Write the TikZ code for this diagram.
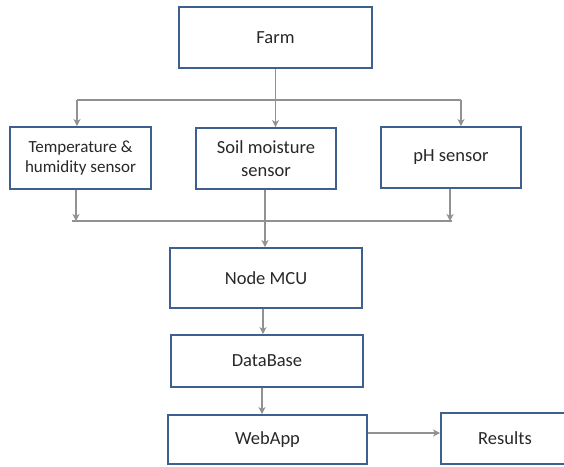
\documentclass[tikz,border=0pt]{standalone}
\usepackage{fontspec}
\setmainfont{Carlito}
\usetikzlibrary{arrows.meta,calc}
\definecolor{boxblue}{RGB}{62,96,144}
\definecolor{wire}{RGB}{145,145,145}
\definecolor{txt}{RGB}{40,40,40}
\tikzset{
  blk/.style={draw=boxblue, line width=1.9pt, fill=white, text=txt,
    inner sep=0pt, align=center, font=\fontsize{18.5}{23}\selectfont},
  wireline/.style={draw=wire, line width=1.3pt},
  flow/.style={wireline, -{Stealth[length=7pt,width=7pt,inset=2pt]}},
}
\begin{document}
\begin{tikzpicture}[x=1pt,y=-1pt]
\clip (0,0) rectangle (564,466);
\fill[white] (0,0) rectangle (564,466);

% boxes
\node[blk, minimum width=193pt, minimum height=61pt] (farm) at (275.5,37.5) {Farm};
\node[blk, minimum width=141pt, minimum height=62pt, font=\fontsize{17}{20}\selectfont] (temp) at (80.5,158) {Temperature \&\\humidity sensor};
\node[blk, minimum width=140pt, minimum height=61pt] (soil) at (266,158.5) {Soil moisture\\sensor};
\node[blk, minimum width=140pt, minimum height=61pt] (ph) at (451,157.5) {pH sensor};
\node[blk, minimum width=192pt, minimum height=60pt] (mcu) at (266,278) {Node MCU};
\node[blk, minimum width=192pt, minimum height=52pt] (db) at (267,361) {DataBase};
\node[blk, minimum width=199pt, minimum height=49pt] (web) at (267.5,439.5) {WebApp};
\node[blk, minimum width=128pt, minimum height=51pt] (res) at (505,438.5) {Results};

% distribution from the farm to the sensors
\coordinate (topL) at (77,100);
\coordinate (topR) at (461,100);
\draw[wireline] (topL) -- (topR);
\draw[flow] (farm.south) -- (farm.south |- soil.north);
\draw[flow] (topL) -- (topL |- temp.north);
\draw[flow] (topR) -- (topR |- ph.north);

% collection from the sensors to the controller
\coordinate (botL) at (72,221);
\coordinate (botR) at (452,221);
\draw[wireline] (botL) -- (botR);
\draw[flow] (temp.south -| 76,0) -- (76,221);
\draw[flow] (ph.south -| 450,0) -- (450,221);
\draw[flow] (soil.south -| 265,0) -- (mcu.north -| 265,0);

% processing chain
\draw[flow] (mcu.south -| 263,0) -- (db.north -| 263,0);
\draw[flow] (db.south -| 262,0) -- (web.north -| 262,0);
\draw[flow] (web.east |- 0,433) -- (res.west |- 0,433);
\end{tikzpicture}
\end{document}
